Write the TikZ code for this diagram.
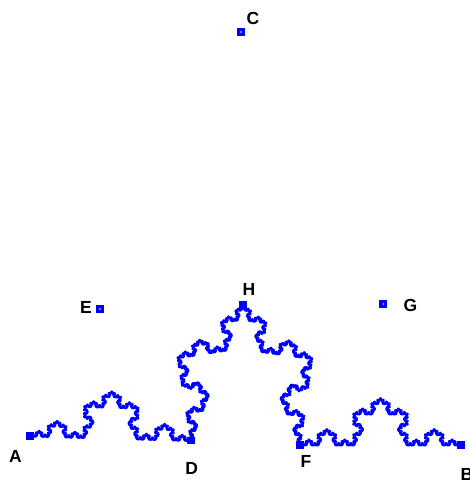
\documentclass[tikz,border=0pt]{standalone}
\usepackage{fontspec}
\setmainfont{Liberation Sans}
\definecolor{kblue}{RGB}{0,0,255}
\makeatletter
\newdimen\kochx \newdimen\kochy
\newcommand\kochrec[5]{%
  \ifnum#1=0\relax
    \pgfpathlineto{\pgfqpoint{#4pt}{#5pt}}%
  \else
    \begingroup
    \pgfmathsetmacro\kdx{(#4-#2)/3}%
    \pgfmathsetmacro\kdy{(#5-#3)/3}%
    \pgfmathsetmacro\kax{#2+\kdx}%
    \pgfmathsetmacro\kay{#3+\kdy}%
    \pgfmathsetmacro\kbx{#2+2*\kdx}%
    \pgfmathsetmacro\kby{#3+2*\kdy}%
    \pgfmathsetmacro\kcx{\kax+0.5*\kdx-0.866025*\kdy}%
    \pgfmathsetmacro\kcy{\kay+0.866025*\kdx+0.5*\kdy}%
    \pgfmathtruncatemacro\kl{#1-1}%
    \edef\knext{%
      \noexpand\kochrec{\kl}{#2}{#3}{\kax}{\kay}%
      \noexpand\kochrec{\kl}{\kax}{\kay}{\kcx}{\kcy}%
      \noexpand\kochrec{\kl}{\kcx}{\kcy}{\kbx}{\kby}%
      \noexpand\kochrec{\kl}{\kbx}{\kby}{#4}{#5}}%
    \expandafter\endgroup\knext
  \fi}
\newcommand\kochbetween[3]{%
  \pgfextractx{\kochx}{\pgfpointanchor{#2}{center}}%
  \pgfextracty{\kochy}{\pgfpointanchor{#2}{center}}%
  \edef\kxa{\strip@pt\kochx}\edef\kya{\strip@pt\kochy}%
  \pgfextractx{\kochx}{\pgfpointanchor{#3}{center}}%
  \pgfextracty{\kochy}{\pgfpointanchor{#3}{center}}%
  \edef\kxb{\strip@pt\kochx}\edef\kyb{\strip@pt\kochy}%
  \kochrec{#1}{\kxa}{\kya}{\kxb}{\kyb}}
\makeatother
\tikzset{
  fpt/.style={rectangle, fill=kblue, minimum size=7.5pt, inner sep=0pt},
  hpt/.style={rectangle, fill=kblue, minimum size=8pt, inner sep=0pt,
    path picture={\fill[white] (path picture bounding box.center) circle (0.8pt);}},
  lbl/.style={font=\fontsize{17.5}{20}\selectfont\bfseries, inner sep=0pt, text=black}
}
\begin{document}
\begin{tikzpicture}[x=1pt,y=1pt]
\useasboundingbox[fill=white] (0,0) rectangle (469,481);
% points
\node[fpt] (A) at (30,45) {};
\node[fpt] (D) at (191,40.5) {};
\node[fpt] (H) at (243,176) {};
\node[fpt] (F) at (300,36) {};
\node[fpt] (B) at (461,36) {};
\node[hpt] (C) at (241,449) {};
\node[hpt] (E) at (100,172) {};
\node[hpt] (G) at (383.3,177) {};
% curve
\begin{scope}[color=kblue, line width=2.8pt, line join=round, line cap=round]
\pgfpathmoveto{\pgfpointanchor{A}{center}}
\kochbetween{4}{A}{D}
\kochbetween{4}{D}{H}
\kochbetween{4}{H}{F}
\kochbetween{4}{F}{B}
\pgfusepath{stroke}
\end{scope}
% labels
\node[lbl] (lA) at (15.5,24.5) {A};
\node[lbl] (lD) at (191.7,13) {D};
\node[lbl] (lF) at (306,19.5) {F};
\node[lbl] (lB) at (467,7) {B};
\node[lbl] (lE) at (86,174) {E};
\node[lbl] (lG) at (410.5,175.5) {G};
\node[lbl] (lC) at (253,463) {C};
\node[lbl] (lH) at (249,192) {H};
\end{tikzpicture}
\end{document}
